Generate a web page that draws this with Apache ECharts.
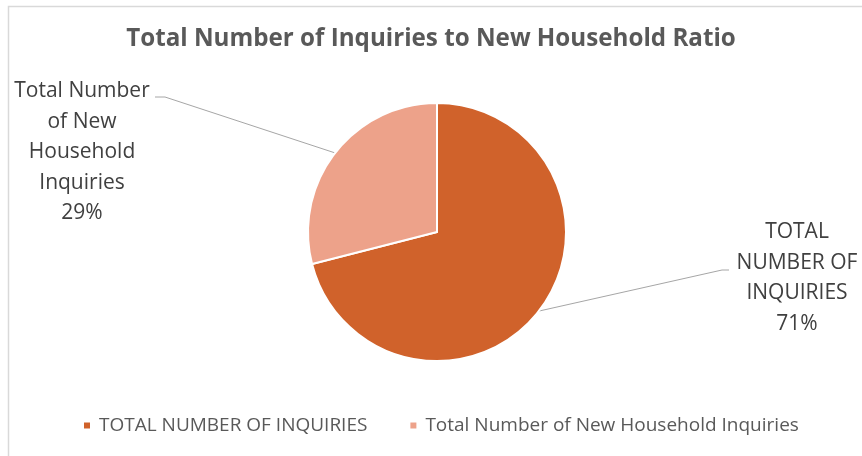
<!DOCTYPE html>
<html>
<head>
<meta charset="utf-8">
<script src="https://cdn.jsdelivr.net/npm/echarts@6/dist/echarts.min.js"></script>
<style>
html,body{margin:0;padding:0;background:#fff;}
#chart{width:862px;height:456px;}
</style>
</head>
<body>
<div id="chart"></div>
<script>
const titleText = 'Total Number of Inquiries to New Household Ratio';
const categories = ['TOTAL NUMBER OF INQUIRIES', 'Total Number of New Household Inquiries'];
const labelNames = ['TOTAL\nNUMBER OF\nINQUIRIES', 'Total Number\nof New\nHousehold\nInquiries'];
const values = [71, 29];
const colors = ['#D0622B', '#EDA28A'];

const chart = echarts.init(document.getElementById('chart'), null, {renderer: 'canvas'});
const FONT = 'Open Sans';

// label placement (layout only)
const labelPlace = [
  {x: 797, y: 217, bend: [722, 270], end: [729, 270]},
  {x: 82, y: 76, bend: [165, 97], end: [155, 97]}
];

const option = {
  backgroundColor: '#ffffff',
  animation: false,
  color: colors,
  graphic: [{
    type: 'rect', left: 6, top: 4,
    shape: {width: 900, height: 500},
    style: {fill: 'none', stroke: '#d9d9d9', lineWidth: 1.5},
    silent: true
  }],
  title: {
    text: titleText,
    left: 'center',
    top: 22,
    textStyle: {fontFamily: FONT, fontWeight: 'bold', fontSize: 24.2, color: '#595959'}
  },
  legend: {
    data: categories,
    bottom: 16,
    left: 77,
    icon: 'rect',
    itemWidth: 8,
    itemHeight: 8,
    itemGap: 41,
    textStyle: {fontFamily: FONT, fontSize: 19, color: '#595959', padding: [0, 0, 0, 3]}
  },
  series: [{
    type: 'pie',
    center: [437, 232],
    radius: 129,
    startAngle: 90,
    clockwise: true,
    avoidLabelOverlap: false,
    itemStyle: {borderColor: '#ffffff', borderWidth: 2},
    label: {
      show: true,
      position: 'outside',
      formatter: function (p) { return labelNames[p.dataIndex] + '\n' + Math.round(p.percent) + '%'; },
      fontFamily: FONT,
      fontSize: 21,
      lineHeight: 30.5,
      color: '#404040',
      align: 'center'
    },
    labelLine: {show: true, lineStyle: {color: '#a6a6a6', width: 1}},
    labelLayout: function (params) {
      const pl = labelPlace[params.dataIndex];
      const start = params.labelLinePoints ? params.labelLinePoints[0] : pl.bend;
      return {
        x: pl.x, y: pl.y, align: 'center', verticalAlign: 'top',
        labelLinePoints: [start, pl.bend, pl.end]
      };
    },
    data: categories.map((c, i) => ({name: c, value: values[i]}))
  }]
};
chart.setOption(option);
</script>
</body>
</html>
